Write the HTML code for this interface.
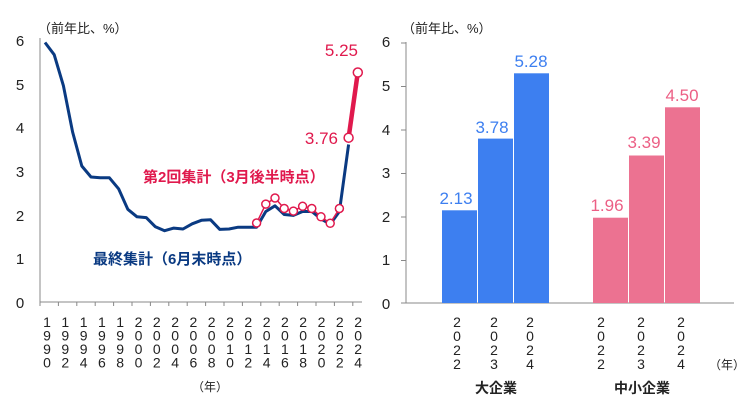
<!DOCTYPE html>
<html><head><meta charset="utf-8"><style>
body{margin:0;background:#fff}
svg{display:block;font-family:"Liberation Sans","Noto Sans CJK JP",sans-serif}
</style></head><body>
<svg width="742" height="416" viewBox="0 0 742 416">
<g font-size="15" fill="#222">
<text x="38" y="33" font-size="13">（前年比、%）</text>
<g text-anchor="middle">
<text x="20" y="308">0</text><text x="20" y="264">1</text><text x="20" y="221">2</text><text x="20" y="177">3</text><text x="20" y="133">4</text><text x="20" y="90">5</text><text x="20" y="46">6</text>
</g>
</g>
<line x1="40" y1="38" x2="40" y2="302" stroke="#888"/>
<line x1="40" y1="302" x2="362" y2="302" stroke="#888"/>
<path d="M40 302v4M58.4 302v4M76.8 302v4M95.2 302v4M113.6 302v4M132 302v4M150.4 302v4M168.8 302v4M187.2 302v4M205.6 302v4M224 302v4M242.4 302v4M260.8 302v4M279.2 302v4M297.6 302v4M316 302v4M334.4 302v4M352.8 302v4" stroke="#888"/>
<g font-size="14" fill="#222" text-anchor="middle">
<text y="327"><tspan x="47">1</tspan><tspan x="65.3">1</tspan><tspan x="83.6">1</tspan><tspan x="101.9">1</tspan><tspan x="120.2">1</tspan><tspan x="138.5">2</tspan><tspan x="156.8">2</tspan><tspan x="175.1">2</tspan><tspan x="193.4">2</tspan><tspan x="211.7">2</tspan><tspan x="230">2</tspan><tspan x="248.3">2</tspan><tspan x="266.6">2</tspan><tspan x="284.9">2</tspan><tspan x="303.2">2</tspan><tspan x="321.5">2</tspan><tspan x="339.8">2</tspan><tspan x="358.1">2</tspan></text>
<text y="340.5"><tspan x="47">9</tspan><tspan x="65.3">9</tspan><tspan x="83.6">9</tspan><tspan x="101.9">9</tspan><tspan x="120.2">9</tspan><tspan x="138.5">0</tspan><tspan x="156.8">0</tspan><tspan x="175.1">0</tspan><tspan x="193.4">0</tspan><tspan x="211.7">0</tspan><tspan x="230">0</tspan><tspan x="248.3">0</tspan><tspan x="266.6">0</tspan><tspan x="284.9">0</tspan><tspan x="303.2">0</tspan><tspan x="321.5">0</tspan><tspan x="339.8">0</tspan><tspan x="358.1">0</tspan></text>
<text y="354"><tspan x="47">9</tspan><tspan x="65.3">9</tspan><tspan x="83.6">9</tspan><tspan x="101.9">9</tspan><tspan x="120.2">9</tspan><tspan x="138.5">0</tspan><tspan x="156.8">0</tspan><tspan x="175.1">0</tspan><tspan x="193.4">0</tspan><tspan x="211.7">0</tspan><tspan x="230">1</tspan><tspan x="248.3">1</tspan><tspan x="266.6">1</tspan><tspan x="284.9">1</tspan><tspan x="303.2">1</tspan><tspan x="321.5">2</tspan><tspan x="339.8">2</tspan><tspan x="358.1">2</tspan></text>
<text y="367.5"><tspan x="47">0</tspan><tspan x="65.3">2</tspan><tspan x="83.6">4</tspan><tspan x="101.9">6</tspan><tspan x="120.2">8</tspan><tspan x="138.5">0</tspan><tspan x="156.8">2</tspan><tspan x="175.1">4</tspan><tspan x="193.4">6</tspan><tspan x="211.7">8</tspan><tspan x="230">0</tspan><tspan x="248.3">2</tspan><tspan x="266.6">4</tspan><tspan x="284.9">6</tspan><tspan x="303.2">8</tspan><tspan x="321.5">0</tspan><tspan x="339.8">2</tspan><tspan x="358.1">4</tspan></text>
</g>
<text x="210" y="391" font-size="12" fill="#222" text-anchor="middle">（年）</text>
<polyline fill="none" stroke="#0a3a82" stroke-width="3" stroke-linejoin="round" points="
45,42.5 54.2,54.7 63.4,85.7 72.6,132 81.8,166 91,177 100.2,177.8 109.4,177.8 118.6,188.8 127.8,209.3 137,216.8 146.2,217.6 155.4,226.8 164.6,230.7 173.8,228.1 183,229 192.2,223.8 201.4,220.3 210.6,219.8 219.8,229.4 229,229 238.2,227.2 247.4,227.2 256.6,227.2 265.8,211.5 275,205.8 284.2,214.5 293.4,215.4 302.6,211.5 311.8,211.5 321,218.9 330.2,224.2 339.4,211.5 348.6,144.5"/>
<polyline fill="none" stroke="#e0194d" stroke-width="1.5" points="256.6,223 265.8,204.1 275,198 284.2,208.5 293.4,211.1 302.6,206.3 311.8,208.5 321,216.8 330.2,223.3 339.4,208.5"/>
<line x1="348.6" y1="137.7" x2="357.8" y2="72.5" stroke="#e0194d" stroke-width="4.5"/>
<g fill="#fff" stroke="#e0194d" stroke-width="1.5">
<circle cx="256.6" cy="223" r="4"/><circle cx="265.8" cy="204.1" r="4"/><circle cx="275" cy="198" r="4"/><circle cx="284.2" cy="208.5" r="4"/><circle cx="293.4" cy="211.1" r="4"/><circle cx="302.6" cy="206.3" r="4"/><circle cx="311.8" cy="208.5" r="4"/><circle cx="321" cy="216.8" r="4"/><circle cx="330.2" cy="223.3" r="4"/><circle cx="339.4" cy="208.5" r="4"/>
<circle cx="348.6" cy="137.7" r="4.5"/><circle cx="357.8" cy="72.5" r="4.5"/>
</g>
<g fill="#e0194d" font-size="17">
<text x="358" y="56" text-anchor="end">5.25</text>
<text x="338" y="144" text-anchor="end">3.76</text>
<text x="143" y="182" font-weight="bold" font-size="15">第2回集計（3月後半時点）</text>
</g>
<text x="93" y="264" fill="#0a3a82" font-weight="bold" font-size="15">最終集計（6月末時点）</text>

<!-- right -->
<g font-size="15" fill="#222">
<text x="402" y="33" font-size="13">（前年比、%）</text>
<g text-anchor="middle">
<text x="386" y="309">0</text><text x="386" y="265">1</text><text x="386" y="222">2</text><text x="386" y="178">3</text><text x="386" y="135">4</text><text x="386" y="91">5</text><text x="386" y="47">6</text>
</g>
</g>
<line x1="406" y1="42" x2="406" y2="303" stroke="#888"/>
<line x1="401" y1="303" x2="734" y2="303" stroke="#888"/>
<path d="M401 260.5h5M401 217h5M401 173.5h5M401 130h5M401 86.5h5M401 43h5" stroke="#888"/>
<g fill="#3d7ff0">
<rect x="442" y="210.3" width="35" height="92.7"/>
<rect x="478" y="138.6" width="35" height="164.4"/>
<rect x="514" y="73.3" width="35" height="229.7"/>
</g>
<g fill="#ec7291">
<rect x="593" y="217.7" width="35" height="85.3"/>
<rect x="629" y="155.5" width="35" height="147.5"/>
<rect x="665" y="107.3" width="35" height="195.7"/>
</g>
<g font-size="17" text-anchor="middle">
<g fill="#3d7ff0"><text x="456" y="204">2.13</text><text x="492" y="133">3.78</text><text x="531" y="67">5.28</text></g>
<g fill="#ec5f85"><text x="607" y="211">1.96</text><text x="644" y="148">3.39</text><text x="682" y="101">4.50</text></g>
</g>
<g font-size="14" fill="#222" text-anchor="middle">
<g><text x="457" y="327">2</text><text x="457" y="341">0</text><text x="457" y="355">2</text><text x="457" y="369">2</text></g>
<g><text x="494" y="327">2</text><text x="494" y="341">0</text><text x="494" y="355">2</text><text x="494" y="369">3</text></g>
<g><text x="530" y="327">2</text><text x="530" y="341">0</text><text x="530" y="355">2</text><text x="530" y="369">4</text></g>
<g><text x="601" y="327">2</text><text x="601" y="341">0</text><text x="601" y="355">2</text><text x="601" y="369">2</text></g>
<g><text x="641" y="327">2</text><text x="641" y="341">0</text><text x="641" y="355">2</text><text x="641" y="369">3</text></g>
<g><text x="681" y="327">2</text><text x="681" y="341">0</text><text x="681" y="355">2</text><text x="681" y="369">4</text></g>
<text x="727" y="369" font-size="12">（年）</text>
<text x="496" y="393" font-weight="bold" font-size="14">大企業</text>
<text x="642" y="393" font-weight="bold" font-size="14">中小企業</text>
</g>
</svg>
</body></html>
